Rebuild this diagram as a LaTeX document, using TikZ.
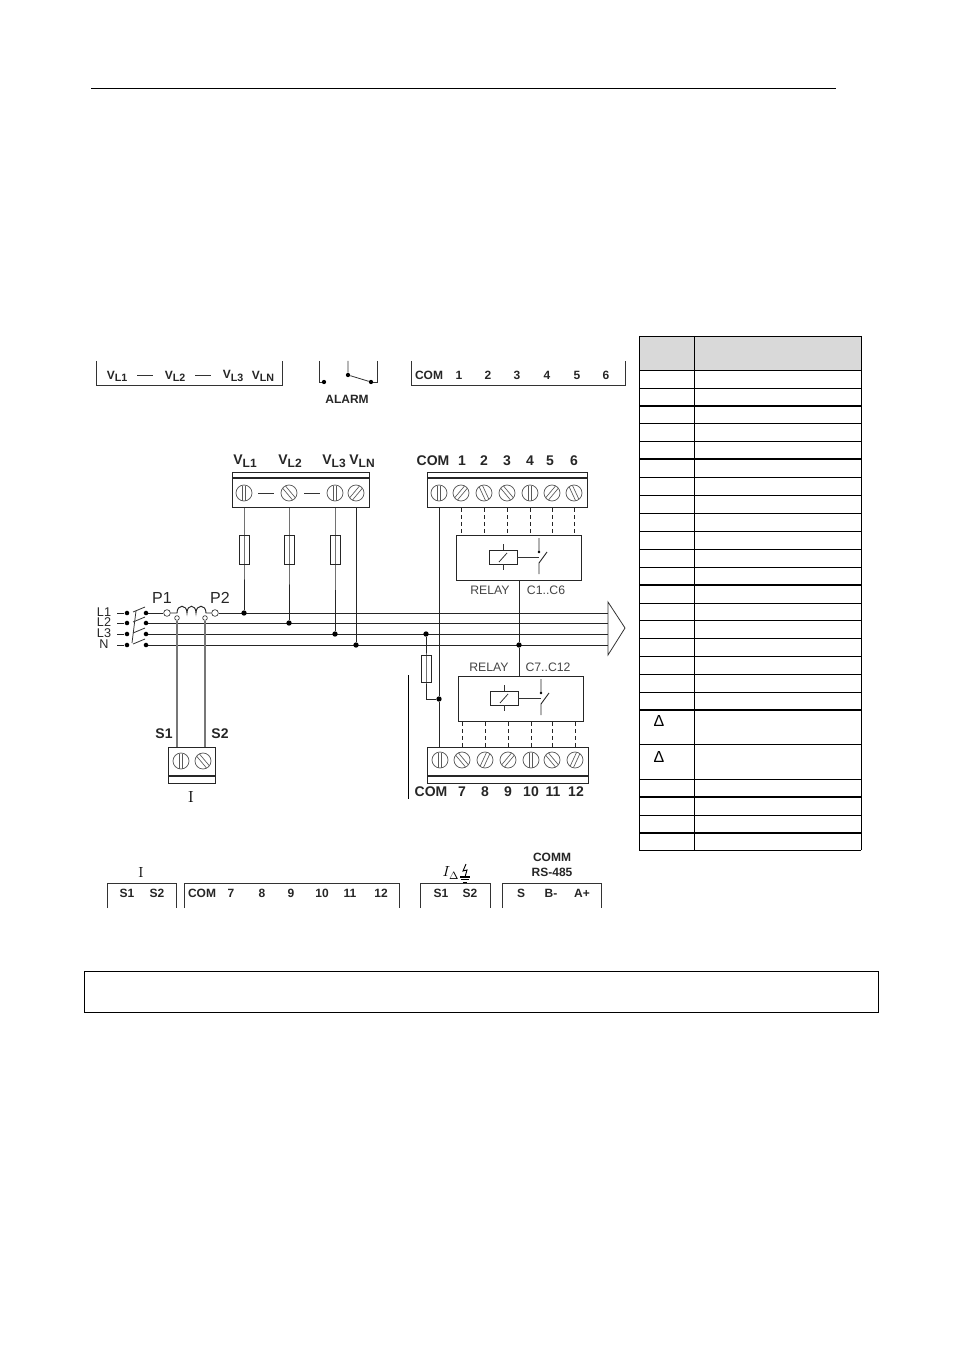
\documentclass[tikz,border=0pt]{standalone}
\usepackage{xcolor}
\usepackage{fontspec}
\usetikzlibrary{calc}
\newfontfamily\labelfont{Liberation Sans}
\definecolor{headgray}{HTML}{D9D9D9}
\definecolor{relaygray}{HTML}{444444}
\definecolor{cablegray}{HTML}{777777}
\tikzset{
	wire/.style={line width=0.7pt,black!85},
	thinwire/.style={line width=0.6pt,black!80},
	dot/.style={circle,fill=black,inner sep=0pt,minimum size=4pt},
	ring/.style={circle,draw=black!80,line width=0.5pt,fill=white,inner sep=0pt,minimum size=5pt},
	fuse/.style={rectangle,draw=black!85,line width=0.7pt,inner sep=0pt,minimum width=7.5pt,minimum height=22pt},
	block/.style={rectangle,draw=black!85,line width=0.8pt,inner sep=0pt},
	screw/.style={circle,draw=black!65,line width=0.55pt,inner sep=0pt,minimum size=12pt},
	boldlab/.style={font=\labelfont\bfseries\fontsize{10.5}{10.5}\selectfont,text=black!85,inner sep=0pt},
	striplab/.style={font=\labelfont\bfseries\fontsize{9}{9}\selectfont,text=black!85,inner sep=0pt},
	relaylab/.style={font=\labelfont\fontsize{9.2}{9.2}\selectfont,text=relaygray,inner sep=0pt},
	plainlab/.style={font=\labelfont\fontsize{12}{12}\selectfont,text=black!85,inner sep=0pt},
	linelab/.style={font=\labelfont\fontsize{9.5}{9.5}\selectfont,text=black!85,inner sep=0pt}
}
% voltage label, #1 size of the index, #2 index
\newcommand{\vsub}[2][9]{V\raisebox{-.35ex}{\fontsize{#1}{#1}\selectfont #2}}
% screw with two slots, #1 name, #2 x, #3 y, #4 angle
\newcommand{\screwat}[4]{
	\node[screw] (#1) at (#2,#3) {};
	\draw [black!65,line width=0.5pt,shift={(#2,#3)},rotate=#4] (-1.8,-7.5) -- (-1.8,7.5) (1.8,-7.5) -- (1.8,7.5);
}
% relay symbol, #1 name, #2 x of coil centre, #3 x of contact, #4 y of coil centre
\newcommand{\relaysym}[4]{
	\node[rectangle,draw=black!85,line width=0.7pt,inner sep=0pt,minimum width=21pt,minimum height=10.5pt] (#1) at (#2,#4) {};
	\draw [thinwire] ($(#2,#4)+(0,-7)$) -- ++(0,-6) ($(#2,#4)+(0,7)$) -- ++(0,6);
	\draw [thinwire] ($(#2,#4)+(-4,5)$) -- ++(8,-9);
	\draw [thinwire] (#1.east) -- (#3,#4);
	\draw [wire] ($(#3,#4)+(0,-19)$) -- ++(0,14) ($(#3,#4)+(0,17)$) -- ++(0,-11) -- ++(8,-11);
	\fill ($(#3,#4)+(0,-5)$) circle (1pt);
}
\begin{document}
\begin{tikzpicture}[x=0.75pt,y=-0.75pt]
	\useasboundingbox (0,0) rectangle (954,1351);
	% page rule and empty frame
	\draw [line width=0.7pt] (91,88) -- (836,88);
	\draw [line width=0.7pt] (84,971) rectangle (878.5,1012);

	% upper strips
	\draw [thinwire] (96,361) -- (96,385) -- (282,385) -- (282,361);
	\draw [thinwire] (411,361) -- (411,385) -- (625,385) -- (625,361);
	\node[striplab] (stripa) at (117,376) {\vsub[8]{L1}};
	\node[striplab] (stripb) at (175,376) {\vsub[8]{L2}};
	\node[striplab] (stripc) at (233,376) {\vsub[8]{L3}};
	\node[striplab] (stripd) at (263,376) {\vsub[8]{LN}};
	\draw [thinwire] (137,375) -- (153,375) (195,375) -- (211,375);
	\node[striplab] (stripcom) at (429,375) {COM};
	\foreach \n/\x in {1/459,2/488,3/517,4/547,5/577,6/606}
		\node[striplab] (stripn\n) at (\x,375) {\n};

	% alarm contacts
	\node[dot,minimum size=3.2pt] (ala) at (324,382) {};
	\node[dot,minimum size=3.2pt] (alb) at (348,375) {};
	\node[dot,minimum size=3.2pt] (alc) at (371,382) {};
	\draw [thinwire] (319,361) -- (319,382) -- (ala);
	\draw [thinwire] (348,361) -- (alb) -- (alc);
	\draw [thinwire] (377,361) -- (377,382) -- (alc);
	\node[striplab] (alarm) at (347,399) {ALARM};

	% voltage terminal
	\node[block,anchor=north west,minimum width=102.75pt,minimum height=26.25pt] (tvl) at (232,472) {};
	\draw [block] (232,478) -- (369,478);
	\screwat{va}{244}{493}{0}
	\screwat{vb}{289}{493}{40}
	\screwat{vc}{335}{493}{0}
	\screwat{vd}{356}{493}{-40}
	\draw [thinwire] (258,493) -- (274,493) (304,493) -- (320,493);
	\node[boldlab] (lva) at (245,461) {\vsub{L1}};
	\node[boldlab] (lvb) at (290,461) {\vsub{L2}};
	\node[boldlab] (lvc) at (334,461) {\vsub{L3}};
	\node[boldlab] (lvd) at (362,461) {\vsub{LN}};

	% bus
	\coordinate (busa) at (146,613);
	\coordinate (busb) at (146,623);
	\coordinate (busc) at (146,634);
	\coordinate (busd) at (146,645);
	\coordinate (enda) at (608,613);
	\coordinate (endb) at (608,623);
	\coordinate (endc) at (608,634);
	\coordinate (endd) at (608,645);
	\node[ring] (pa) at (167,613) {};
	\node[ring] (pb) at (215,613) {};
	\draw [wire] (busa) -- (pa);
	\draw [wire] (pa) -- (177,613) .. controls (177,604) and (187,604) .. (187,613) .. controls (187,604) and (196,604) .. (196,613) .. controls (196,604) and (206,604) .. (206,613) -- (pb);
	\draw [wire] (pb) -- (enda);
	\draw [wire] (busb) -- (endb);
	\draw [wire] (busc) -- (endc);
	\draw [wire] (busd) -- (endd);
	\draw [thinwire] (608,602) -- (625,628) -- (608,655) -- cycle;
	\node[plainlab] (lp1) at (162,598) {P1};
	\node[plainlab] (lp2) at (220,598) {P2};

	% switch
	\foreach \n/\y/\t in {a/613/L1,b/623/L2,c/634/L3,d/645/N}{
		\node[dot,minimum size=3.4pt] (swl\n) at (127,\y) {};
		\node[dot,minimum size=3.4pt] (swr\n) at (146,\y) {};
		\coordinate (swf\n) at (117,\y);
		\draw [wire] (swf\n) -- (swl\n);
		\draw [thinwire] (swl\n) ++(6,-1) -- ++(12,-5);
		\node[linelab] (lab\n) at (104,\y-1) {\t};
	}
	\draw [thinwire] (136,611) -- (132,643);

	% fuses to voltage terminal
	\foreach \n/\x/\y in {a/244/613,b/289/623,c/335/634}{
		\node[dot] (jv\n) at (\x,\y) {};
		\node[fuse] (fv\n) at (\x,550) {};
		\draw [wire] (v\n |- tvl.south) -- (fv\n.center) -- (jv\n);
	}
	\node[dot] (jvd) at (356,645) {};
	\draw [wire] (vd |- tvl.south) -- (jvd);

	% current transformer and its terminal
	\node[block,anchor=north west,minimum width=35.25pt,minimum height=27pt] (tct) at (168,747) {};
	\draw [block] (168,776) -- (215,776);
	\screwat{cta}{181}{761}{0}
	\screwat{ctb}{203}{761}{40}
	\node[ring,minimum size=3.5pt] (sa) at (177,618) {};
	\node[ring,minimum size=3.5pt] (sb) at (205,618) {};
	\draw [cablegray,line width=0.9pt] (sa) -- (sa |- tct.north) (sb) -- (sb |- tct.north);
	\node[boldlab] (ls1) at (164,734) {S1};
	\node[boldlab] (ls2) at (220,734) {S2};
	\node[font=\fontsize{12}{12}\selectfont,inner sep=0pt] (li) at (191,797) {I};

	% upper relay terminal
	\node[block,anchor=north west,minimum width=120pt,minimum height=26.25pt] (tua) at (427,472) {};
	\draw [block] (427,478) -- (587,478);
	\foreach \n/\x/\a in {0/439/0,1/461/-40,2/484/25,3/507/40,4/530/0,5/552/-40,6/574/25}{
		\screwat{ua\n}{\x}{493}{\a}
	}
	\node[boldlab] (lcoma) at (433,461) {COM};
	\foreach \n/\x in {1/462,2/484,3/507,4/530,5/550,6/574}
		\node[boldlab] (lua\n) at (\x,461) {\n};
	\node[block,anchor=north west,minimum width=93.75pt,minimum height=33.75pt] (rela) at (456,535) {};
	\foreach \n in {1,...,6}
		\draw [wire,dash pattern=on 3pt off 2.2pt] (ua\n |- tua.south) -- (ua\n |- rela.north);
	\relaysym{coila}{503}{539}{557}
	\node[relaylab] (lrela) at (490,590) {RELAY};
	\node[relaylab] (lcona) at (546,590) {C1..C6};

	% lower relay terminal
	\node[block,anchor=north west,minimum width=93.75pt,minimum height=33.75pt] (relb) at (458,676) {};
	\node[dot] (jrel) at (519,645) {};
	\coordinate (relta) at (519,580);
	\coordinate (reltb) at (519,676);
	\draw [wire] (relta) -- (jrel);
	\draw [wire] (jrel) -- (reltb);
	\relaysym{coilb}{504}{541}{698}
	\node[relaylab] (lrelb) at (489,667) {RELAY};
	\node[relaylab] (lconb) at (548,667) {C7..C12};
	\node[block,anchor=north west,minimum width=120.75pt,minimum height=27pt] (tub) at (427,747) {};
	\draw [block] (427,776) -- (588,776);
	\foreach \n/\x/\a in {0/440/0,1/462/40,2/485/-25,3/508/-40,4/531/0,5/552/40,6/575/-25}{
		\screwat{ub\n}{\x}{760}{\a}
	}
	\foreach \n in {1,...,6}
		\draw [wire,dash pattern=on 3pt off 2.2pt] (ub\n |- relb.south) -- (ub\n |- tub.north);
	\node[boldlab] (lcomb) at (431,792) {COM};
	\foreach \n/\x/\t in {1/462/7,2/485/8,3/508/9,4/531/10,5/553/11,6/576/12}
		\node[boldlab] (lub\n) at (\x,792) {\t};

	% common wire and its fuse
	\node[dot] (jcom) at (439,699) {};
	\node[dot] (jfus) at (426,634) {};
	\node[fuse,minimum height=20.5pt] (fcom) at (426,669) {};
	\draw [wire] (ua0 |- tua.south) -- (jcom);
	\draw [wire] (jcom) -- (jcom |- tub.north);
	\draw [wire] (jfus) -- (fcom.center) -- (426,699) -- (jcom);
	\draw [line width=0.6pt] (408,675) -- (408,799);

	% lower strips
	\draw [thinwire] (107,908) -- (107,883) -- (176,883) -- (176,908);
	\draw [thinwire] (184,908) -- (184,883) -- (399,883) -- (399,908);
	\draw [thinwire] (420,908) -- (420,883) -- (490,883) -- (490,908);
	\draw [thinwire] (502,908) -- (502,883) -- (601,883) -- (601,908);
	\foreach \n/\x/\t in {a/127/S1,b/157/S2,c/202/COM,d/231/7,e/262/8,f/291/9,g/322/10,h/350/11,i/381/12,j/441/S1,k/470/S2,l/521/S,m/551/B-,n/582/A+}
		\node[striplab] (striplow\n) at (\x,893) {\t};
	\node[font=\fontsize{11}{11}\selectfont,inner sep=0pt] (lstripi) at (141,872) {I};
	\node[font=\fontsize{11}{11}\selectfont,inner sep=0pt] (ldelta) at (451,873) {$I_{\Delta}$};
	\draw [line width=0.7pt] (466,864) -- (463,871) -- (467,870) -- (465,877);
	\draw [line width=0.8pt] (460,877) -- (470,877);
	\draw [line width=0.6pt] (461,879.5) -- (469,879.5);
	\draw [line width=0.5pt] (463,882) -- (467,882);
	\node[striplab] (lcomm) at (552,857) {COMM};
	\node[striplab] (lrs) at (552,872) {RS-485};

	% table
	\fill [headgray] (639,336) rectangle (861,370);
	\foreach \y in {336,370,388,423,441,477,495,513,531,549,567,603,620,638,656,674,692,744,779,815,850}
		\draw [line width=0.6pt] (639,\y) -- (861,\y);
	\foreach \y in {406,459,585,710,797,833}
		\draw [line width=1pt] (639,\y) -- (861,\y);
	\draw [line width=0.7pt] (639,336) -- (639,850);
	\draw [line width=0.7pt] (694,336) -- (694,850);
	\draw [line width=0.7pt] (861,336) -- (861,850);
	\node[font=\labelfont\fontsize{12}{12}\selectfont,inner sep=0pt] (taba) at (659,721) {Δ};
	\node[font=\labelfont\fontsize{12}{12}\selectfont,inner sep=0pt] (tabb) at (659,757) {Δ};
\end{tikzpicture}
\end{document}
